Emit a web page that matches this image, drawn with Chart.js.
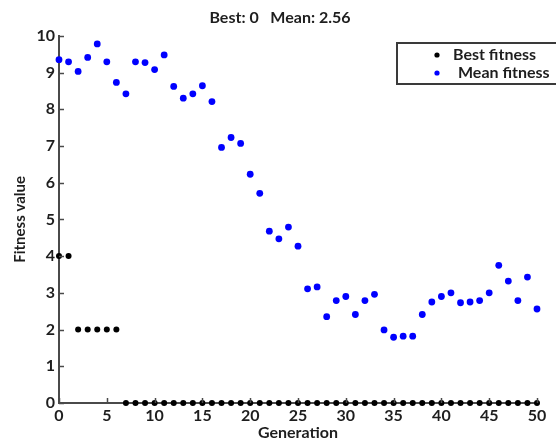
<!DOCTYPE html>
<html>
<head>
<meta charset="utf-8">
<script src="https://cdn.jsdelivr.net/npm/chart.js@4/dist/chart.umd.min.js"></script>
<style>
html,body{margin:0;padding:0;background:#fff;}
#c{display:block;}
</style>
</head>
<body>
<canvas id="c" width="556" height="442"></canvas>
<script>
const generations = [0,1,2,3,4,5,6,7,8,9,10,11,12,13,14,15,16,17,18,19,20,21,22,23,24,25,26,27,28,29,30,31,32,33,34,35,36,37,38,39,40,41,42,43,44,45,46,47,48,49,50];
const bestFitness = [4,4,2,2,2,2,2,0,0,0,0,0,0,0,0,0,0,0,0,0,0,0,0,0,0,0,0,0,0,0,0,0,0,0,0,0,0,0,0,0,0,0,0,0,0,0,0,0,0,0,0];
const meanFitness = [9.35,9.29,9.03,9.41,9.78,9.29,8.73,8.42,9.29,9.27,9.08,9.48,8.62,8.30,8.42,8.64,8.21,6.96,7.23,7.07,6.23,5.71,4.68,4.47,4.79,4.27,3.11,3.16,2.35,2.79,2.90,2.41,2.79,2.96,1.99,1.79,1.82,1.82,2.41,2.75,2.90,3.00,2.73,2.75,2.79,3.00,3.75,3.32,2.79,3.43,2.56];
const seriesNames = ['Best fitness','Mean fitness'];
const seriesColors = ['#000000','#0000ff'];
const chartTitle = 'Best: 0   Mean: 2.56';
const xTitle = 'Generation';
const yTitle = 'Fitness value';

const FONT = 'Lato, "DejaVu Sans", sans-serif';
const AXIS = '#4a4a4a';
const TXT = '#1e1e1e';

const toPoints = (ys) => generations.map((g, i) => ({x: g, y: ys[i]}));

const inwardTicks = {
  id: 'inwardTicks',
  afterDatasetsDraw(chart) {
    const ctx = chart.ctx;
    const xs = chart.scales.x, ys = chart.scales.y;
    ctx.save();
    ctx.strokeStyle = AXIS;
    ctx.lineWidth = 1.5;
    xs.ticks.forEach(t => {
      const px = Math.round(xs.getPixelForValue(t.value)) + 0.5;
      ctx.beginPath();
      ctx.moveTo(px, xs.top);
      ctx.lineTo(px, xs.top - 5);
      ctx.stroke();
    });
    ys.ticks.forEach(t => {
      const py = Math.round(ys.getPixelForValue(t.value)) + 0.5;
      ctx.beginPath();
      ctx.moveTo(ys.right, py);
      ctx.lineTo(ys.right + 5, py);
      ctx.stroke();
    });
    ctx.restore();
  }
};

const boxLegend = {
  id: 'boxLegend',
  afterDraw(chart) {
    const ctx = chart.ctx;
    ctx.save();
    ctx.fillStyle = '#fff';
    ctx.fillRect(397, 43, 162, 41);
    ctx.strokeStyle = '#3a3a3a';
    ctx.lineWidth = 2;
    ctx.strokeRect(397, 43, 162, 41);
    ctx.font = 'bold 16px ' + FONT;
    ctx.textBaseline = 'middle';
    ctx.textAlign = 'left';
    const rows = [55, 73];
    const textX = [453, 458];
    chart.data.datasets.forEach((ds, i) => {
      ctx.fillStyle = ds.backgroundColor;
      ctx.beginPath();
      ctx.arc(437, rows[i], 2.6, 0, Math.PI * 2);
      ctx.fill();
      ctx.fillStyle = TXT;
      ctx.fillText(ds.label, textX[i], rows[i]);
    });
    ctx.restore();
  }
};

new Chart(document.getElementById('c'), {
  type: 'scatter',
  data: {
    datasets: [
      {label: seriesNames[0], data: toPoints(bestFitness), backgroundColor: seriesColors[0], borderColor: seriesColors[0], pointRadius: 3, borderWidth: 0, clip: false},
      {label: seriesNames[1], data: toPoints(meanFitness), backgroundColor: seriesColors[1], borderColor: seriesColors[1], pointRadius: 3.4, borderWidth: 0, clip: false}
    ]
  },
  options: {
    responsive: false,
    animation: false,
    devicePixelRatio: 1,
    layout: {padding: {left: 23, right: 19, top: 0, bottom: 0}},
    plugins: {
      legend: {display: false},
      tooltip: {enabled: false},
      title: {
        display: true,
        text: chartTitle,
        color: TXT,
        font: {family: FONT, size: 16, weight: 'bold', lineHeight: 1.2},
        padding: {top: 8, bottom: 8.6}
      }
    },
    scales: {
      x: {
        type: 'linear',
        min: 0, max: 50,
        afterFit(s) { s.height = 39; },
        ticks: {stepSize: 5, color: TXT, padding: 3, font: {family: FONT, size: 16, weight: 'bold'}, maxRotation: 0},
        grid: {display: true, drawOnChartArea: false, drawTicks: false},
        border: {display: true, color: AXIS, width: 2},
        title: {display: true, text: xTitle, color: TXT, font: {family: FONT, size: 16, weight: 'bold', lineHeight: 1.2}, padding: {top: 0, bottom: 0}}
      },
      y: {
        type: 'linear',
        min: 0, max: 10,
        afterFit(s) { s.width = 36; },
        ticks: {stepSize: 1, color: TXT, padding: 4, font: {family: FONT, size: 16, weight: 'bold'}},
        grid: {display: true, drawOnChartArea: false, drawTicks: false},
        border: {display: true, color: AXIS, width: 2},
        title: {display: true, text: yTitle, color: TXT, font: {family: FONT, size: 15, weight: 'bold', lineHeight: 1.2}, padding: {top: -12, bottom: 0}}
      }
    }
  },
  plugins: [inwardTicks, boxLegend]
});
</script>
</body>
</html>
